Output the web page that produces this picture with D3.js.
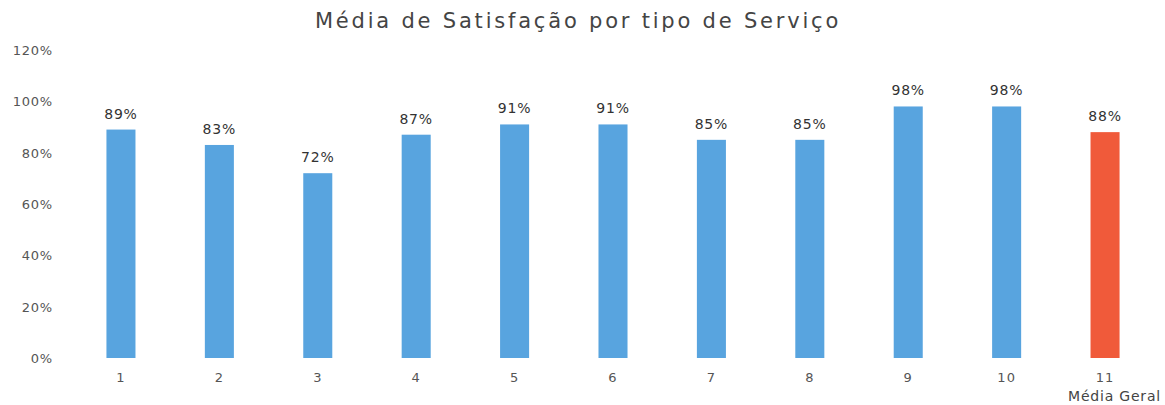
<!DOCTYPE html>
<html>
<head>
<meta charset="utf-8">
<script src="https://cdn.jsdelivr.net/npm/d3@7"></script>
<style>
  body { margin: 0; background: #fff; }
  text { font-family: "DejaVu Sans", sans-serif; }
</style>
</head>
<body>
<svg id="chart" width="1165" height="405"></svg>
<script>
const categories = ["1", "2", "3", "4", "5", "6", "7", "8", "9", "10", "11"];
const values = [0.89, 0.83, 0.72, 0.87, 0.91, 0.91, 0.85, 0.85, 0.98, 0.98, 0.88];
const yTicks = [0, 0.2, 0.4, 0.6, 0.8, 1.0, 1.2];
const highlight = "11";

const svg = d3.select("#chart"),
    width = +svg.attr("width"),
    height = +svg.attr("height");

const x = d3.scaleBand()
    .domain(categories)
    .range([72, 1154])
    .paddingInner(0.705)
    .paddingOuter(0.35);

const y = d3.scaleLinear()
    .domain([0, 1.2])
    .range([358, 50]);

const fmt = d3.format(".0%");

svg.append("text")
    .attr("x", 578)
    .attr("y", 28)
    .attr("text-anchor", "middle")
    .attr("font-size", 21)
    .attr("letter-spacing", 2.8)
    .attr("fill", "#444")
    .text("Média de Satisfação por tipo de Serviço");

// y axis labels
svg.append("g")
    .selectAll("text")
    .data(yTicks)
    .enter().append("text")
    .attr("x", 53)
    .attr("y", d => y(d) + 5)
    .attr("text-anchor", "end")
    .attr("font-size", 13)
    .attr("letter-spacing", 0.8)
    .attr("fill", "#555")
    .text(d => fmt(d));

const data = categories.map((c, i) => ({ cat: c, value: values[i] }));

svg.append("g")
    .selectAll("rect")
    .data(data)
    .enter().append("rect")
    .attr("x", d => x(d.cat))
    .attr("width", x.bandwidth())
    .attr("y", d => y(d.value))
    .attr("height", d => y(0) - y(d.value))
    .attr("fill", d => d.cat === highlight ? "#f05a3a" : "#58a4df");

// value labels
svg.append("g")
    .selectAll("text")
    .data(data)
    .enter().append("text")
    .attr("x", d => x(d.cat) + x.bandwidth() / 2)
    .attr("y", d => y(d.value) - 11)
    .attr("text-anchor", "middle")
    .attr("font-size", 14)
    .attr("letter-spacing", 0.8)
    .attr("fill", "#333")
    .text(d => fmt(d.value));

// category labels
svg.append("g")
    .selectAll("text")
    .data(categories)
    .enter().append("text")
    .attr("x", d => x(d) + x.bandwidth() / 2)
    .attr("y", 382)
    .attr("text-anchor", "middle")
    .attr("font-size", 13)
    .attr("letter-spacing", 1)
    .attr("fill", "#555")
    .text(d => d);

svg.append("text")
    .attr("x", 1161)
    .attr("y", 401)
    .attr("text-anchor", "end")
    .attr("font-size", 14)
    .attr("letter-spacing", 0.8)
    .attr("fill", "#444")
    .text("Média Geral");
</script>
</body>
</html>
